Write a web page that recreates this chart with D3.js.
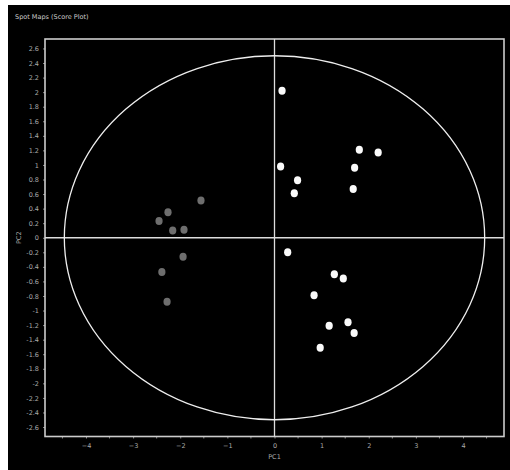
<!DOCTYPE html>
<html><head><meta charset="utf-8">
<script src="https://cdn.jsdelivr.net/npm/d3@7"></script>
<style>
html,body{margin:0;padding:0;background:#fff;}
svg{display:block;}
</style></head>
<body>
<svg id="c" width="510" height="470"></svg>
<script>
const title = "Spot Maps (Score Plot)";
const xLabel = "PC1";
const yLabel = "PC2";
const xTicks = [-4,-3,-2,-1,0,1,2,3,4];
const yTicks = [-2.6,-2.4,-2.2,-2,-1.8,-1.6,-1.4,-1.2,-1,-0.8,-0.6,-0.4,-0.2,0,0.2,0.4,0.6,0.8,1,1.2,1.4,1.6,1.8,2,2.2,2.4,2.6];
const groupA_x = [0.16,1.80,2.20,0.13,1.70,0.49,0.42,1.67,0.28,1.27,1.46,0.84,1.56,1.16,1.69,0.97];
const groupA_y = [2.02,1.21,1.17,0.98,0.96,0.79,0.61,0.67,-0.20,-0.50,-0.56,-0.79,-1.16,-1.21,-1.31,-1.51];
const groupB_x = [-1.56,-2.26,-2.45,-2.16,-1.92,-1.94,-2.39,-2.28];
const groupB_y = [0.51,0.35,0.23,0.10,0.11,-0.26,-0.47,-0.88];
const ellipseR = [4.46, 2.5];
const xDomain = [-4.87, 4.87];
const yDomain = [-2.73, 2.73];

const svg = d3.select("#c");
svg.append("rect").attr("x",8).attr("y",5).attr("width",502).attr("height",465).attr("fill","#000");

const L=45, R=504, T=39, B=436.5;
const x = d3.scaleLinear().domain(xDomain).range([L,R]);
const y = d3.scaleLinear().domain(yDomain).range([B,T]);
const FONT = "DejaVu Sans, sans-serif";

svg.append("text").attr("x",15).attr("y",19).attr("fill","#ccc")
  .attr("font-family",FONT).attr("font-size",6.5).text(title);

// y axis
const gy = svg.append("g").attr("transform",`translate(${L},0)`)
  .call(d3.axisLeft(y).tickValues(yTicks).tickSize(2).tickPadding(4).tickFormat(d=>String(+d.toFixed(1))));
gy.select(".domain").remove();
gy.selectAll("line").attr("stroke","#888");
gy.selectAll("text").attr("fill","#aaa").attr("font-family",FONT).attr("font-size",6.5);

// x axis
const gx = svg.append("g").attr("transform",`translate(0,${B})`)
  .call(d3.axisBottom(x).tickValues(xTicks).tickSize(2).tickPadding(5).tickFormat(d3.format("d")));
gx.select(".domain").remove();
gx.selectAll("line").attr("stroke","#888");
gx.selectAll("text").attr("fill","#aaa").attr("font-family",FONT).attr("font-size",6.5);
// minor x ticks
const minorX = d3.range(-4.5,4.6,0.5).filter(v=>Math.abs(v%1)>0.1);
svg.append("g").selectAll("line").data(minorX).join("line")
  .attr("x1",d=>x(d)).attr("x2",d=>x(d)).attr("y1",B).attr("y2",B+2).attr("stroke","#888");

svg.append("text").attr("x",x(0)).attr("y",459).attr("text-anchor","middle").attr("fill","#aaa")
  .attr("font-family",FONT).attr("font-size",6.5).text(xLabel);
svg.append("text").attr("transform",`translate(21,${y(0)}) rotate(-90)`).attr("text-anchor","middle").attr("fill","#aaa")
  .attr("font-family",FONT).attr("font-size",6.5).text(yLabel);

// frame
svg.append("rect").attr("x",L).attr("y",T).attr("width",R-L).attr("height",B-T)
  .attr("fill","none").attr("stroke","#ccc").attr("stroke-width",1.6);

// crosshair
svg.append("line").attr("x1",L).attr("x2",R).attr("y1",y(0)).attr("y2",y(0)).attr("stroke","#ddd").attr("stroke-width",1.3);
svg.append("line").attr("x1",x(0)).attr("x2",x(0)).attr("y1",T).attr("y2",B).attr("stroke","#ddd").attr("stroke-width",1.3);

// ellipse
svg.append("ellipse").attr("cx",x(0)).attr("cy",y(0))
  .attr("rx",x(ellipseR[0])-x(0)).attr("ry",y(0)-y(ellipseR[1]))
  .attr("fill","none").attr("stroke","#eee").attr("stroke-width",1.3);

// points
const A = groupA_x.map((v,i)=>[v,groupA_y[i]]);
const Bp = groupB_x.map((v,i)=>[v,groupB_y[i]]);
svg.append("g").selectAll("ellipse").data(Bp).join("ellipse")
  .attr("cx",d=>x(d[0])).attr("cy",d=>y(d[1])).attr("rx",3.6).attr("ry",4)
  .attr("fill","#6e6e6e");
svg.append("g").selectAll("ellipse").data(A).join("ellipse")
  .attr("cx",d=>x(d[0])).attr("cy",d=>y(d[1])).attr("rx",3.6).attr("ry",4)
  .attr("fill","#fafafa");
</script>
</body></html>
